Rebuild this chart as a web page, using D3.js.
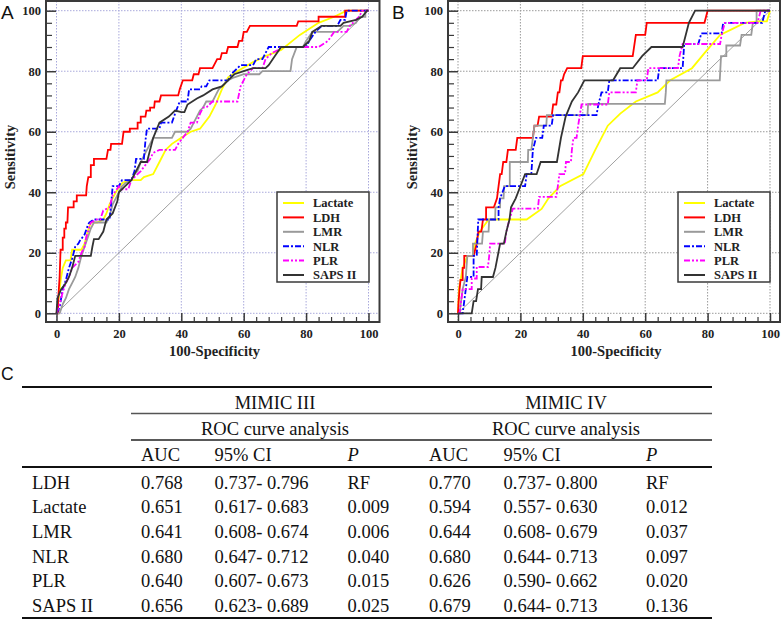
<!DOCTYPE html>
<html>
<head>
<meta charset="utf-8">
<script src="https://cdn.jsdelivr.net/npm/d3@7"></script>
<style>
  html, body { margin: 0; padding: 0; background: #fff; }
  svg { display: block; }
  .serif { font-family: "Liberation Serif", "Tinos", "Times New Roman", Times, "DejaVu Serif", "Noto Serif", serif; }
  .sans { font-family: "Liberation Sans", Arial, Helvetica, sans-serif; }
</style>
</head>
<body>
<svg id="chart" width="781" height="620"></svg>
<script>
// ---------------- DATA ----------------
const seriesNames = ["Lactate", "LDH", "LMR", "NLR", "PLR", "SAPS II"];
const axisTicks = [0, 20, 40, 60, 80, 100];

// Panel A (MIMIC III) ROC points: [100-Specificity, Sensitivity]
const lactateA = [[0,0],[0.5,3],[1,8],[1.5,12],[2,15],[3,17.5],[4.5,17.5],[5,21],[8,21],[9,23],[10,27],[11,30],[13,30],[15,31],[16,33],[17,36],[19,40],[21,43],[23,44],[27,44],[28,45],[31,46],[33,50],[35,54],[37,56],[40,58],[43,60],[46,61],[49,65],[51,69],[53,74],[55,78],[58,80],[63,83],[67,85],[72,87],[78,92],[84,96],[89,98],[93,100],[100,100]];
const ldhA = [[0,0],[0.5,0],[0.5,4],[1,12],[1.3,21],[2,21],[2,25],[2.5,25],[2.5,28],[3,28],[3,30],[3.5,30],[3.7,35],[5.5,35],[5.5,37],[6.5,37],[6.5,39],[9.5,39],[9.7,42],[10.2,45],[11,45],[11,49],[12,49],[12,51],[16,51],[16.5,54],[17.3,54],[17.5,56],[21,56],[21.5,60],[23.5,60],[23.5,61],[26,61],[26,63],[27,63],[27,65],[28.5,65],[28.8,67],[30,67],[30,68],[31.3,68],[31.5,70],[33,70],[33.5,72],[39,72],[39.5,74],[40.5,77],[43.5,77],[44,79],[45.5,79],[46,81],[50,81],[50.5,82],[51.5,84],[52.5,84],[53,86],[54.5,86],[55,88],[58,88],[58.5,90],[59.5,90],[60,93],[61,93],[62,95],[77,95],[77.5,96.5],[84,96.5],[84,98],[92.5,98],[92.5,100],[100,100]];
const lmrA = [[0,0],[1,0],[2,3],[3,5],[4,8],[5,10],[6,12],[7,15],[8,19],[9,22],[10,25],[11,28],[12,30],[16,30],[17,32],[18,36],[19,38],[20,40],[21,42],[22,43],[24,44],[25,46],[26,47],[27,50],[28,52],[29,54],[30,56],[31,58],[37,58],[38,60],[42,60],[43,61],[44,63],[45,65],[46,67],[47,68],[48,70],[50,70],[51,72],[52,74],[53,75],[55,77],[57,78],[60,79],[65,79],[66,80],[75,80],[75.5,84],[77,88],[79,88],[80,90],[82,93],[90,93],[92,95],[94,95],[96,96],[97,98],[99,98],[99,100],[100,100]];
const nlrA = [[0,0],[1,2],[2,8],[3,11],[4,15],[5,18],[6,22],[7,23],[7.5,24],[9,26],[10,29],[10.5,30],[12,31],[17,31],[17.5,36],[18,42],[20,42],[21,44],[24,44],[25,47],[25.5,51],[28,51],[28.5,57],[29,61],[33,61],[33.5,63],[37,63],[38,66],[39.5,70],[42,70],[42.5,74],[46,74],[46.5,75],[48,75],[49,77],[55,77],[56,79],[58,81],[59,82],[63,82],[64,84],[66,84],[67,86],[68,88],[80,88],[81,90],[83,93],[85,95],[90,95],[91,97],[92.5,97],[93,100],[100,100]];
const plrA = [[0,0],[1,3],[2,7],[3,10],[4,12],[5,15],[6,16],[7,17],[8,20],[9,22],[9.5,25],[11,30],[13,31],[14,31],[15,34],[17,35],[18,39],[20,42],[21,41],[23,41],[24,44],[26,46],[27,47],[28.5,49],[30,51],[31,53],[33,54],[38,54],[39,56],[40.5,58],[42,60],[43,63],[45,63],[46,66],[47,68],[48,68],[49,69],[50,70],[58,70],[59,75],[61,79],[63,81],[66,81],[67,84],[69,86],[71,87],[72,88],[84,88],[87,90],[89,93],[93,93],[94,95],[97,98],[98,100],[100,100]];
const sapsA = [[0,0],[0.3,5],[1.5,8],[3,10],[4,12],[5,15],[6,19],[11,19],[11.5,22],[12,24.5],[13.5,24.5],[15,27],[16,31],[18,33],[19.5,37],[20,40],[22,42],[24,44],[25,46],[27,50],[29,50],[30,54],[31,58],[33,63],[36,65],[38,67],[40,66.5],[41,66.5],[42,69],[45,71],[47,72],[50,74],[53,75],[55,77],[57,79],[60,80],[63,81],[67,81],[68,82],[70,85],[72,88],[79,88],[81,90],[82,93],[85,95],[91,95],[92,96],[96,97],[98,98],[99.5,100],[100,100]];

// Panel B (MIMIC IV)
const lactateB = [[0,0],[0.3,8],[1,12],[1.5,15],[3,19],[4.8,19],[5.4,23],[7,27],[9.8,31],[22,31],[26.8,34.5],[29,38],[32.7,42],[40.2,46],[44,54],[48,62],[52,66],[57,70],[64,73],[68,77],[75,81],[79,86],[84,92],[88,94],[92,96],[96,96.5],[99,96.5],[100,100]];
const ldhB = [[0,0],[0.2,4],[0.5,8],[0.8,11],[1.5,11],[1.5,15],[2,15],[2,19],[5,19],[5.5,21],[6,23],[6.5,27],[7.5,27],[8,31],[9,31],[9,35],[11.5,35],[12.5,38],[13,42],[13.5,46],[14,46],[14.5,50],[15.5,50],[16,54],[18.5,54],[19,58],[24,58],[24.5,62],[25.5,62],[26,65],[30,65],[30.5,69],[31.5,69],[32,73],[32.5,73],[33,77],[33.5,77],[34,79],[35,81],[39.5,81],[40,85],[56,85],[57,92],[60,92],[60.5,96],[79,96],[80,100],[100,100]];
const lmrB = [[0,0],[0.5,0],[1,4],[1.5,8],[2.5,12],[3,19],[4.8,19],[4.8,23],[7.7,23],[8,27],[9.8,27],[10,31],[11.9,31],[12,35],[13.5,35],[13.5,38],[14.6,38],[14.8,42],[16.6,42],[16.6,50],[22.4,50],[22.5,54],[23.5,54],[24,58],[24.5,62],[28.3,62],[28.5,65.5],[41.5,65.5],[41.7,69.2],[66.3,69.2],[66.6,73],[66.8,77],[83.9,77],[84.3,85],[86,85],[86,88.5],[90.4,88.5],[90.9,92],[94,92],[94.5,96],[95.7,96],[95.7,100],[100,100]];
const nlrB = [[0,0],[1.5,0],[2,4],[2.5,8],[3,12],[5,12],[5,19],[6,19],[6.5,31],[13,31],[13,35],[13.5,38],[15,42],[21.5,42],[22,46],[23.5,46],[24,54],[25,58],[27,58],[27.5,62],[30,62],[30.5,65.5],[44.4,65.5],[45,69],[46,73],[48,73],[48.5,77],[64,77],[64.5,81],[72,81],[72.5,89],[77,89],[78,92.5],[84.5,92.5],[85,96],[97.5,96],[98.5,100],[100,100]];
const plrB = [[0,0],[0.5,0],[1,4],[1.5,8],[4.4,8],[4.4,11.5],[6,11.5],[6,15.3],[9.6,15.3],[10,19],[10.3,23],[15,23],[15.5,27],[16.5,31],[17.6,34.6],[25.6,34.6],[26,38.5],[31.5,38.5],[32,42],[32.5,46],[34.3,46],[34.6,50],[36.2,50],[36.5,54],[37,58],[38,58],[38.5,62],[39.6,69],[48,69],[48.5,73],[57,73],[57.5,77],[60.5,77],[61,81],[70.5,81],[71,85],[72,89],[84,89],[84.5,92],[85.5,96],[96,96],[97,100],[100,100]];
const sapsB = [[0,0],[4.4,0],[5,4],[5.8,4],[6.4,8],[7.4,8],[7.6,12],[11.2,12],[12,15],[13.5,23],[14.7,23],[15.5,27],[16.5,31],[17,35],[18.5,38],[20,42],[21.5,46],[25.2,46],[26.5,50],[31.7,50],[33,58],[34.5,65],[36.5,70],[38.5,73],[40.5,77],[49.7,77],[52,81],[56,81],[59,85],[62,88],[72,88],[74,96],[76,100],[100,100]];

// Table
const tableGroups = ["MIMIC III", "MIMIC IV"];
const tableSub = "ROC curve analysis";
const tableHeader = ["AUC", "95% CI", "P"];
const rowLabels = ["LDH", "Lactate", "LMR", "NLR", "PLR", "SAPS II"];
const aucIII = ["0.768", "0.651", "0.641", "0.680", "0.640", "0.656"];
const ciIII  = ["0.737- 0.796", "0.617- 0.683", "0.608- 0.674", "0.647- 0.712", "0.607- 0.673", "0.623- 0.689"];
const pIII   = ["RF", "0.009", "0.006", "0.040", "0.015", "0.025"];
const aucIV  = ["0.770", "0.594", "0.644", "0.680", "0.626", "0.679"];
const ciIV   = ["0.737- 0.800", "0.557- 0.630", "0.608- 0.679", "0.644- 0.713", "0.590- 0.662", "0.644- 0.713"];
const pIV    = ["RF", "0.012", "0.037", "0.097", "0.020", "0.136"];

// ---------------- STYLE ----------------
const styles = {
  "Lactate": { color: "#ffff00", dash: null, width: 1.8 },
  "LDH":     { color: "#ff0000", dash: null, width: 1.8 },
  "LMR":     { color: "#9a9a9a", dash: null, width: 1.8 },
  "NLR":     { color: "#0000ff", dash: "6,2,2,2", width: 1.8 },
  "PLR":     { color: "#ff00ff", dash: "6,2,2,2,2,2", width: 1.8 },
  "SAPS II": { color: "#333333", dash: null, width: 1.8 }
};

const svg = d3.select("#chart");

function drawPanel(cfg) {
  const x = d3.scaleLinear().domain([0, 100]).range([cfg.x0, cfg.x1]);
  const y = d3.scaleLinear().domain([0, 100]).range([313.3, 10.7]);
  const g = svg.append("g");
  const fL = cfg.frameL, fR = cfg.frameR, fT = 1, fB = 322;

  // grid
  const grid = g.append("g");
  axisTicks.forEach(t => {
    grid.append("line").attr("x1", x(t)).attr("x2", x(t)).attr("y1", fT).attr("y2", fB)
      .attr("stroke", cfg.grid).attr("stroke-width", 1).attr("stroke-dasharray", "1.5,1.5");
    grid.append("line").attr("x1", fL).attr("x2", fR).attr("y1", y(t)).attr("y2", y(t))
      .attr("stroke", cfg.grid).attr("stroke-width", 1).attr("stroke-dasharray", "1.5,1.5");
  });

  // diagonal reference
  g.append("line").attr("x1", x(0)).attr("y1", y(0)).attr("x2", x(100)).attr("y2", y(100))
    .attr("stroke", "#888").attr("stroke-width", 0.8);

  // curves
  const line = d3.line().x(d => x(d[0])).y(d => y(d[1]));
  cfg.series.forEach((pts, i) => {
    const st = styles[seriesNames[i]];
    g.append("path").datum(pts).attr("d", line).attr("fill", "none")
      .attr("stroke", st.color).attr("stroke-width", st.width)
      .attr("stroke-dasharray", st.dash).attr("stroke-linejoin", "miter");
  });

  // frame
  g.append("rect").attr("x", fL).attr("y", fT).attr("width", fR - fL).attr("height", fB - fT)
    .attr("fill", "none").attr("stroke", "#3a3a3a").attr("stroke-width", 2);

  const minor = d3.range(0, 101, 4).filter(v => v % 20 !== 0);
  g.append("g").attr("transform", `translate(${fL},0)`)
    .call(d3.axisRight(y).tickValues(axisTicks).tickSize(10).tickFormat(""))
    .call(s => s.select(".domain").remove())
    .call(s => s.selectAll("line").attr("stroke", "#3a3a3a").attr("stroke-width", 1.5));
  g.append("g").attr("transform", `translate(${fL},0)`)
    .call(d3.axisRight(y).tickValues(minor).tickSize(6).tickFormat(""))
    .call(s => s.select(".domain").remove())
    .call(s => s.selectAll("line").attr("stroke", "#3a3a3a").attr("stroke-width", 1.2));
  g.append("g").attr("transform", `translate(0,${fB})`)
    .call(d3.axisTop(x).tickValues(axisTicks).tickSize(9).tickFormat(""))
    .call(s => s.select(".domain").remove())
    .call(s => s.selectAll("line").attr("stroke", "#3a3a3a").attr("stroke-width", 1.5));
  g.append("g").attr("transform", `translate(0,${fB})`)
    .call(d3.axisTop(x).tickValues(minor).tickSize(5).tickFormat(""))
    .call(s => s.select(".domain").remove())
    .call(s => s.selectAll("line").attr("stroke", "#3a3a3a").attr("stroke-width", 1.2));

  // tick labels
  g.append("g").attr("transform", `translate(${fL},0)`)
    .call(d3.axisLeft(y).tickValues(axisTicks).tickSize(0).tickPadding(5))
    .call(s => s.select(".domain").remove())
    .call(s => s.selectAll("text").attr("class", "serif").attr("font-family", null)
      .attr("font-weight", "bold").attr("font-size", 12.5).attr("fill", "#222"));
  g.append("g").attr("transform", `translate(0,${fB})`)
    .call(d3.axisBottom(x).tickValues(axisTicks).tickSize(0).tickPadding(7))
    .call(s => s.select(".domain").remove())
    .call(s => s.selectAll("text").attr("class", "serif").attr("font-family", null)
      .attr("font-weight", "bold").attr("font-size", 12.5).attr("fill", "#222"));
  g.selectAll("g.tick").attr("font-family", null);
  g.selectAll("g").filter(function(){ return this.getAttribute("font-family"); }).attr("font-family", null);

  // axis titles
  g.append("text").attr("class", "serif").attr("x", (cfg.x0 + cfg.x1) / 2 + 2).attr("y", 356)
    .attr("text-anchor", "middle").attr("font-weight", "bold")
    .attr("font-size", 14.5).attr("fill", "#222").text("100-Specificity");
  g.append("text").attr("class", "serif").attr("transform", `translate(${cfg.titleX},157) rotate(-90)`)
    .attr("text-anchor", "middle").attr("font-weight", "bold")
    .attr("font-size", 14.5).attr("fill", "#222").text("Sensitivity");

  // panel letter
  g.append("text").attr("class", "sans").attr("x", cfg.letterX).attr("y", 19)
    .attr("font-size", 19).attr("fill", "#111").text(cfg.letter);

  // legend
  const lg = g.append("g");
  lg.append("rect").attr("x", cfg.legX).attr("y", 192).attr("width", 92).attr("height", 90)
    .attr("fill", "#fff").attr("stroke", "#3a3a3a").attr("stroke-width", 1.5);
  seriesNames.forEach((name, i) => {
    const st = styles[name];
    const yy = 203 + i * 14.4;
    lg.append("line").attr("x1", cfg.legX + 6).attr("x2", cfg.legX + 27).attr("y1", yy).attr("y2", yy)
      .attr("stroke", st.color).attr("stroke-width", 2).attr("stroke-dasharray", st.dash);
    lg.append("text").attr("class", "serif").attr("x", cfg.legX + 36).attr("y", yy + 4.3)
      .attr("font-weight", "bold").attr("font-size", 12.5)
      .attr("fill", "#222").text(name);
  });
}

drawPanel({ letter: "A", letterX: 1, titleX: 15, x0: 56.5, x1: 368.5, frameL: 46, frameR: 379.5,
  grid: "#a9a9dc", legX: 277, series: [lactateA, ldhA, lmrA, nlrA, plrA, sapsA] });
drawPanel({ letter: "B", letterX: 392, titleX: 417, x0: 458, x1: 770, frameL: 448, frameR: 780,
  grid: "#9a9a9a", legX: 678, series: [lactateB, ldhB, lmrB, nlrB, plrB, sapsB] });

// ---------------- TABLE ----------------
const t = svg.append("g");
const fs = 18.5;
t.append("text").attr("class", "sans").attr("x", 1).attr("y", 380).attr("font-size", 17.5)
  .attr("fill", "#111").text("C");

function hline(y, x1, x2, w, c) {
  t.append("line").attr("x1", x1).attr("x2", x2).attr("y1", y).attr("y2", y)
    .attr("stroke", c || "#111").attr("stroke-width", w);
}
hline(387, 22, 712, 2);
hline(413.5, 131, 712, 1.5, "#555");
hline(440, 131, 712, 1.5, "#222");
hline(467, 22, 712, 2);
hline(618, 22, 712, 2.2);

function txt(x, y, s, opts) {
  const e = t.append("text").attr("class", "serif").attr("x", x).attr("y", y)
    .attr("font-size", fs).attr("fill", "#111").text(s);
  if (opts && opts.anchor) e.attr("text-anchor", opts.anchor);
  if (opts && opts.italic) e.attr("font-style", "italic");
  return e;
}
const groupCenters = [275, 566];
tableGroups.forEach((gname, i) => {
  txt(groupCenters[i], 409, gname, { anchor: "middle" });
  txt(groupCenters[i], 435, tableSub, { anchor: "middle" });
});
const colX = [[141, 214.5, 347.5], [429, 503.5, 646]];
colX.forEach(cols => {
  tableHeader.forEach((h, j) => txt(cols[j], 461, h, { italic: h === "P" }));
});
const rowY = d3.scaleLinear().domain([0, 5]).range([488.5, 612]);
rowLabels.forEach((r, i) => {
  const yy = rowY(i);
  txt(32, yy, r);
  txt(colX[0][0], yy, aucIII[i]);
  txt(colX[0][1], yy, ciIII[i]);
  txt(colX[0][2], yy, pIII[i]);
  txt(colX[1][0], yy, aucIV[i]);
  txt(colX[1][1], yy, ciIV[i]);
  txt(colX[1][2], yy, pIV[i]);
});
</script>
</body>
</html>
